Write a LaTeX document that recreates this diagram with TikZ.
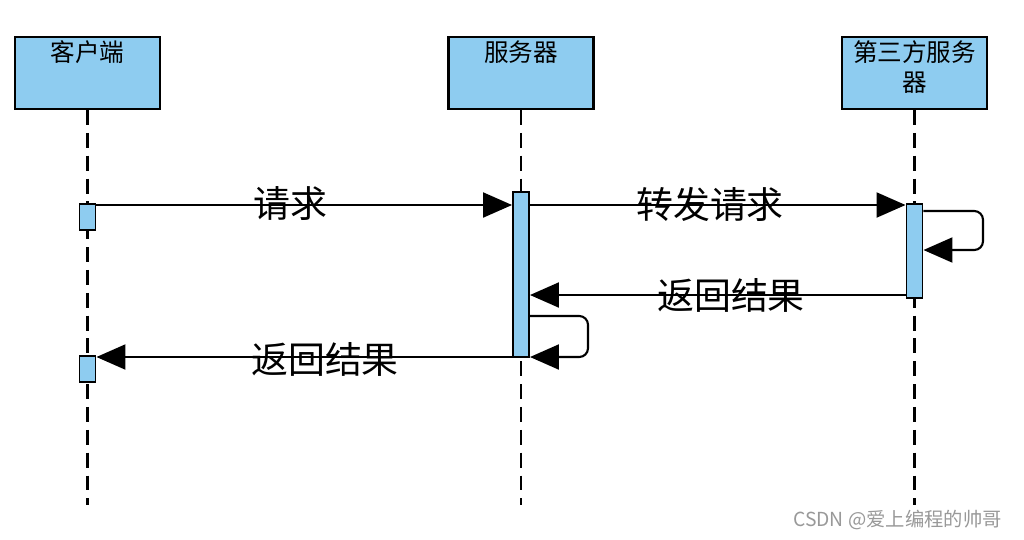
\documentclass[tikz,border=0pt]{standalone}
\usepackage{fontspec}
\setmainfont{Noto Sans CJK SC}
\usetikzlibrary{arrows.meta}
\definecolor{actfill}{RGB}{142,204,240}
\begin{document}
\begin{tikzpicture}[x=0.02cm,y=-0.02cm,
 box/.style={draw=black, line width=1.2pt, fill=actfill, minimum width=2.9cm, minimum height=1.44cm, inner sep=0pt},
 act/.style={draw=black, line width=1.1pt, fill=actfill, minimum width=0.32cm, inner sep=0pt},
 life/.style={line width=1.3pt, dash pattern=on 8.5pt off 4.5pt},
 msg/.style={line width=1.2pt, -{Triangle[length=0.58cm,width=0.5cm]}},
 selfmsg/.style={msg, rounded corners=5pt},
 lbl/.style={font=\fontsize{21}{25}\selectfont},
 head/.style={font=\fontsize{14}{17}\selectfont, align=center}]
\useasboundingbox (0,0) rectangle (1024,539);
\fill[white] (0,0) rectangle (1024,539);
% participants
\node[box] (c) at (87.5,73) {};
\node[box] (s) at (521,73) {};
\node[box] (t) at (914.5,73) {};
\node[head] (ct) at (87.5,52) {客户端};
\node[head] (st) at (521,52) {服务器};
\node[head] (tt) at (914.5,67) {第三方服务\\器};
% lifelines
\coordinate (ce) at (87.5,505);
\coordinate (se) at (521,505);
\coordinate (te) at (914.5,505);
\draw[life] (c.south) -- (ce);
\draw[life] (s.south) -- (se);
\draw[life] (t.south) -- (te);
% activations
\node[act, minimum height=0.52cm] (ca1) at (87.5,217) {};
\node[act, minimum height=0.52cm] (ca2) at (87.5,369) {};
\node[act, minimum height=3.3cm] (sa) at (521,274.5) {};
\node[act, minimum height=1.88cm] (ta) at (914.5,251) {};
% messages
\draw[msg] (ca1.east |- 0,205) -- (sa.west |- 0,205);
\draw[msg] (sa.east |- 0,205) -- (ta.west |- 0,205);
\draw[selfmsg] (ta.east |- 0,211) -- (983,211) -- (983,250) -- (ta.east |- 0,250);
\draw[msg] (ta.west |- 0,295) -- (sa.east |- 0,295);
\draw[selfmsg] (sa.east |- 0,316) -- (588,316) -- (588,357) -- (sa.east |- 0,357);
\draw[msg] (sa.west |- 0,357) -- (ca2.east |- 0,357);
% labels
\node[lbl] (l1) at (290,204) {请求};
\node[lbl] (l2) at (710,204) {转发请求};
\node[lbl] (l3) at (731,295) {返回结果};
\node[lbl] (l4) at (325,359) {返回结果};
% watermark
\node[font=\fontsize{11}{13}\selectfont, text=gray!80, anchor=east] (wm) at (1008,520) {CSDN @爱上编程的帅哥};
\end{tikzpicture}
\end{document}
